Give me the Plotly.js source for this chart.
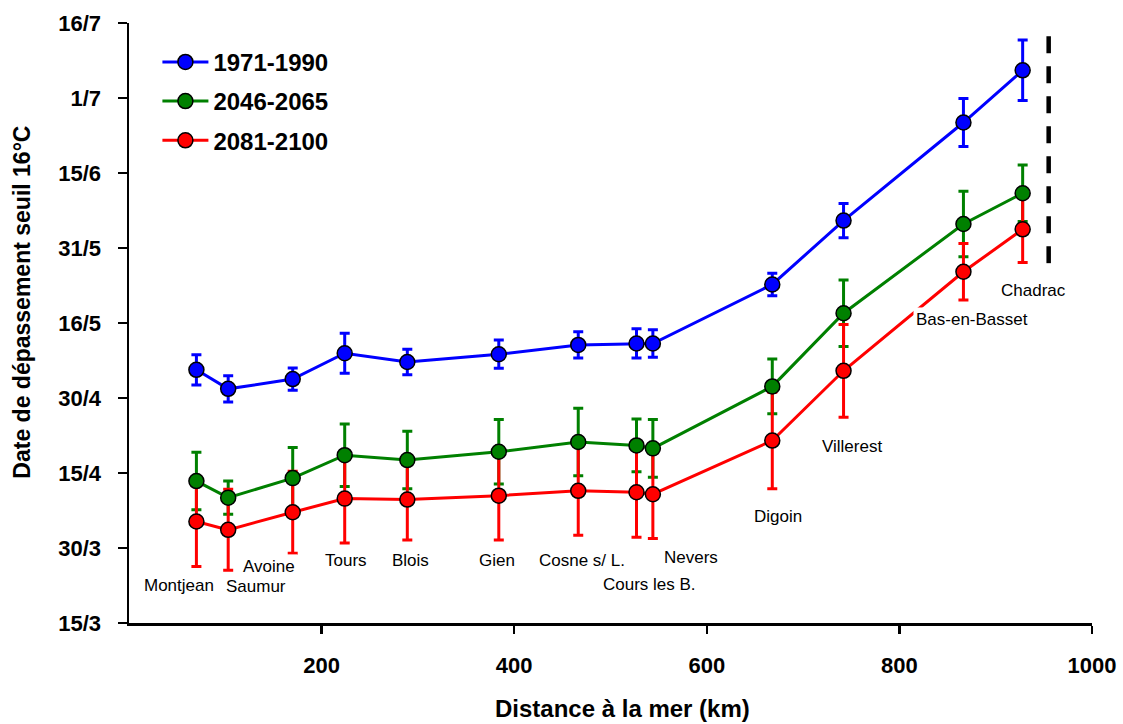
<!DOCTYPE html>
<html><head><meta charset="utf-8">
<script src="https://cdn.plot.ly/plotly-3.0.1.min.js"></script>
<style>html,body{margin:0;padding:0;background:#fff;}#chart{width:1123px;height:724px;}</style>
</head><body><div id="chart"></div>
<script>
// Stations along the Loire
const stations = ['Montjean','Saumur','Avoine','Tours','Blois','Gien','Cosne s/ L.','Cours les B.','Nevers','Digoin','Villerest','Bas-en-Basset','Chadrac'];
// Distance to the sea (km)
const distanceKm = [70, 103, 170, 224, 289, 384, 466.5, 527, 544, 668, 742, 866.5, 928];
// Date of exceeding the 16 °C threshold, as day of year (15/3 = 74, 16/7 = 197)
const p1971_1990    = [125.9, 122.0, 124.0, 129.3, 127.5, 129.1, 131.0, 131.3, 131.3, 143.4, 156.5, 176.6, 187.3];
const p1971_1990Err = [3.1, 2.7, 2.3, 4.1, 2.6, 2.9, 2.7, 3.0, 2.8, 2.3, 3.5, 4.9, 6.2];
const p2046_2065    = [103.1, 99.7, 103.7, 108.4, 107.4, 109.1, 111.1, 110.4, 109.8, 122.5, 137.5, 155.8, 162.1];
const p2046_2065Err = [5.9, 3.4, 6.3, 6.4, 5.9, 6.6, 6.9, 5.4, 5.9, 5.6, 6.8, 6.7, 5.8];
const p2081_2100    = [94.8, 93.1, 96.7, 99.5, 99.3, 100.1, 101.1, 100.8, 100.4, 111.4, 125.7, 146.0, 154.7];
const p2081_2100Err = [9.2, 8.3, 8.4, 9.1, 8.3, 9.1, 9.1, 9.2, 9.1, 9.9, 9.5, 5.8, 6.8];
// Dashed marker line near the source
const dashKm = [955, 955];
const dashDay = [194.3, 147.7];
// Axis ticks
const yTickDays = [74, 89.375, 104.75, 120.125, 135.5, 150.875, 166.25, 181.625, 197];
const yTickLabels = ['15/3','30/3','15/4','30/4','16/5','31/5','15/6','1/7','16/7'];
const xTickVals = [200, 400, 600, 800, 1000];

const series = [
  {name:'1971-1990', y:p1971_1990, err:p1971_1990Err, color:'#0000FF'},
  {name:'2046-2065', y:p2046_2065, err:p2046_2065Err, color:'#008000'},
  {name:'2081-2100', y:p2081_2100, err:p2081_2100Err, color:'#FF0000'}
];

const FONT = 'Liberation Sans, Arial, sans-serif';
const traces = [];
series.forEach(s => {
  traces.push({
    x: distanceKm, y: s.y, type:'scatter', mode:'markers',
    marker:{size:2, opacity:0, color:s.color},
    error_y:{type:'data', array:s.err, visible:true, color:s.color, thickness:3, width:5},
    showlegend:false, hoverinfo:'skip'
  });
});
series.forEach(s => {
  traces.push({
    x: distanceKm, y: s.y, type:'scatter', mode:'lines+markers', name:s.name,
    legendgroup:s.name,
    line:{color:s.color, width:3},
    marker:{size:15, color:s.color, line:{color:'#000', width:1.5}}
  });
});
traces.push({
  x: dashKm, y: dashDay, type:'scatter', mode:'lines',
  line:{color:'#000', width:4.5, dash:'17px,13px'},
  showlegend:false, hoverinfo:'skip'
});

// Station label positions (km, day)
const labelPos = [
  [51.7,81.6],[131.7,81.4],[145.7,85.5],[225.2,86.8],[292.7,86.8],[382.6,86.8],
  [470.9,86.8],[540.5,81.8],[583.1,87.4],[673.5,95.8],[750.4,110.2],[875.6,136.3],[939.0,142.1]
];
const annotations = stations.map((st,i) => ({
  x: labelPos[i][0], y: labelPos[i][1], xref:'x', yref:'y', text: st, showarrow:false,
  font:{family:FONT, size:17, color:'#000'}, bgcolor:'#fff', borderpad:2,
  xanchor:'center', yanchor:'middle'
}));
annotations.push({
  xref:'paper', yref:'paper', x:0.512, y:-0.1427, text:'Distance à la mer (km)', showarrow:false,
  font:{family:FONT, size:24, color:'#000', weight:'bold'}, xanchor:'center', yanchor:'middle'
});
annotations.push({
  xref:'paper', yref:'paper', x:-0.1115, y:0.535, text:'Date de dépassement seuil 16°C', showarrow:false,
  textangle:-90, font:{family:FONT, size:23, color:'#000', weight:'bold'}, xanchor:'center', yanchor:'middle'
});

const layout = {
  width:1123, height:724,
  margin:{l:129, r:31, t:23, b:101},
  paper_bgcolor:'#fff', plot_bgcolor:'#fff',
  showlegend:true,
  legend:{x:0.0295, y:0.972, xanchor:'left', yanchor:'top', bgcolor:'rgba(0,0,0,0)',
    font:{family:FONT, size:24, color:'#000', weight:'bold'}, itemwidth:46, tracegroupgap:5},
  xaxis:{range:[0,1000], tickvals:xTickVals, ticks:'outside', ticklen:8, tickwidth:2.5, tickcolor:'#000',
    showline:true, linecolor:'#000', linewidth:2.5, showgrid:false, zeroline:false,
    tickfont:{family:FONT, size:22, color:'#000', weight:'bold'}, ticklabelstandoff:13},
  yaxis:{range:[74,197], tickvals:yTickDays, ticktext:yTickLabels, ticks:'outside', ticklen:9, tickwidth:2.5, tickcolor:'#000',
    showline:true, linecolor:'#000', linewidth:2.5, showgrid:false, zeroline:false,
    tickfont:{family:FONT, size:22, color:'#000', weight:'bold'}, ticklabelstandoff:12},
  annotations: annotations
};

Plotly.newPlot('chart', traces, layout, {displayModeBar:false, staticPlot:true});
</script>
</body></html>
